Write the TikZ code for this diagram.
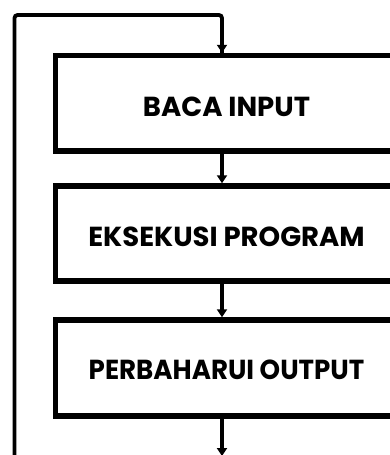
\documentclass[tikz,border=0pt]{standalone}
\usepackage{fontspec}
\setmainfont{Poppins}
\usetikzlibrary{arrows.meta}
\newcommand{\lowertext}[2]{\raisebox{-#1}[\height][0pt]{#2}}
\begin{document}
\begin{tikzpicture}[x=1pt,y=-1pt,
  stepbox/.style={draw=black, line width=5.5pt, minimum width=342pt, inner sep=0pt,
    font=\fontsize{27.5}{30}\selectfont\bfseries},
  conn/.style={line width=3.2pt, -{Triangle[width=10pt,length=8pt]}},
  loopline/.style={line width=3.8pt, rounded corners=3pt}]
\useasboundingbox (0,0) rectangle (390,455);
\clip (0,0) rectangle (390,455);
\fill[white] (0,0) rectangle (390,455);
\node[stepbox, minimum height=95.5pt] (b1) at (226.5,103.25) {\lowertext{3pt}{BACA INPUT}};
\node[stepbox, minimum height=95pt] (b2) at (226.5,233.5) {\lowertext{3pt}{EKSEKUSI PROGRAM}};
\node[stepbox, minimum height=96pt] (b3) at (226.5,368) {\lowertext{2pt}{\scalebox{0.95}[1]{PERBAHARUI OUTPUT}}};
\coordinate (ls) at (14.5,456);
\coordinate (lt) at (14.5,15);
\coordinate (rt) at (222,15);
\coordinate (oe) at (222,456);
\draw[loopline] (ls) -- (lt) -- (rt) -- ([xshift=-4.5pt]b1.north);
\draw[conn] ([xshift=-4.5pt,yshift=4pt]b1.north) -- ([xshift=-4.5pt]b1.north);
\draw[conn] ([xshift=-4.5pt]b1.south) -- ([xshift=-4.5pt]b2.north);
\draw[conn] ([xshift=-4.5pt]b2.south) -- ([xshift=-4.5pt]b3.north);
\draw[conn] ([xshift=-4.5pt]b3.south) -- (oe);
\end{tikzpicture}
\end{document}
